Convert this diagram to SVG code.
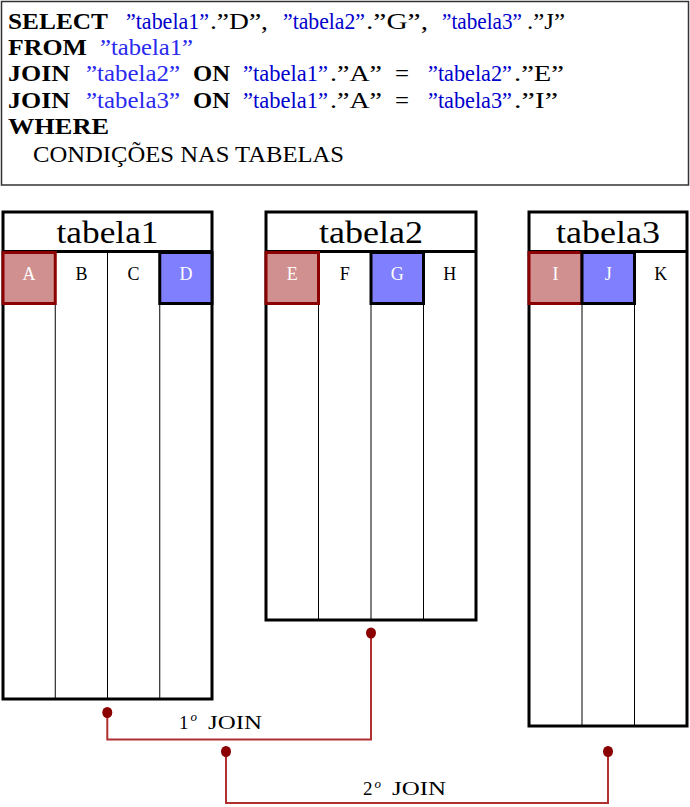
<svg xmlns="http://www.w3.org/2000/svg" width="690" height="807" viewBox="0 0 690 807">
<style>
text{font-family:"Liberation Serif","DejaVu Serif",serif;}
.q{font-size:24px;fill:#000;}
.kw{font-size:23px;font-weight:bold;fill:#000;}
.bl{font-size:23px;fill:#0000cc;}
.bl2{font-size:23px;fill:#2a2aee;}
.frame{fill:#fff;stroke:#000;stroke-width:3;}
.hdr{stroke:#000;stroke-width:3;}
.div{stroke:#000;stroke-width:1;}
.red{fill:#d09090;stroke:#8b0000;stroke-width:3;}
.blue{fill:#8080ff;stroke:#000;stroke-width:3;}
.title{font-size:31px;fill:#000;text-anchor:middle;}
.col{font-size:18px;fill:#000;text-anchor:middle;}
.colw{font-size:18px;fill:#fff;text-anchor:middle;}
.conn{fill:none;stroke:#b03030;stroke-width:2;}
.dot{fill:#8b0000;}
.lab{font-size:19px;fill:#000;}
.sup{font-size:13px;fill:#000;font-style:italic;}
</style>
<rect x="0" y="0" width="690" height="807" fill="#fff"/>
<g id="query">
<rect x="1.5" y="1.5" width="687" height="183.5" fill="#fff" stroke="#333" stroke-width="1.5"/>
<text class="kw" x="8" y="29" textLength="100" lengthAdjust="spacingAndGlyphs">SELECT</text>
<text class="bl" x="126" y="29" textLength="83" lengthAdjust="spacingAndGlyphs">”tabela1”</text>
<text class="q" x="210" y="29" textLength="58" lengthAdjust="spacingAndGlyphs">.”D”,</text>
<text class="bl" x="283" y="29" textLength="82" lengthAdjust="spacingAndGlyphs">”tabela2”</text>
<text class="q" x="366" y="29" textLength="62" lengthAdjust="spacingAndGlyphs">.”G”,</text>
<text class="bl" x="442" y="29" textLength="80" lengthAdjust="spacingAndGlyphs">”tabela3”</text>
<text class="q" x="527" y="29" textLength="38" lengthAdjust="spacingAndGlyphs">.”J”</text>

<text class="kw" x="8" y="55" textLength="79" lengthAdjust="spacingAndGlyphs">FROM</text>
<text class="bl2" x="100" y="55" textLength="93" lengthAdjust="spacingAndGlyphs">”tabela1”</text>

<text class="kw" x="8" y="81" textLength="62" lengthAdjust="spacingAndGlyphs">JOIN</text>
<text class="bl2" x="86" y="81" textLength="94" lengthAdjust="spacingAndGlyphs">”tabela2”</text>
<text class="kw" x="193" y="81" textLength="37" lengthAdjust="spacingAndGlyphs">ON</text>
<text class="bl" x="243" y="81" textLength="85" lengthAdjust="spacingAndGlyphs">”tabela1”</text>
<text class="q" x="330" y="81" textLength="52" lengthAdjust="spacingAndGlyphs">.”A”</text>
<text class="q" x="395" y="81" textLength="14" lengthAdjust="spacingAndGlyphs">=</text>
<text class="bl" x="428" y="81" textLength="84" lengthAdjust="spacingAndGlyphs">”tabela2”</text>
<text class="q" x="514" y="81" textLength="50" lengthAdjust="spacingAndGlyphs">.”E”</text>

<text class="kw" x="8" y="107.5" textLength="62" lengthAdjust="spacingAndGlyphs">JOIN</text>
<text class="bl2" x="86" y="107.5" textLength="94" lengthAdjust="spacingAndGlyphs">”tabela3”</text>
<text class="kw" x="193" y="107.5" textLength="37" lengthAdjust="spacingAndGlyphs">ON</text>
<text class="bl" x="243" y="107.5" textLength="85" lengthAdjust="spacingAndGlyphs">”tabela1”</text>
<text class="q" x="330" y="107.5" textLength="52" lengthAdjust="spacingAndGlyphs">.”A”</text>
<text class="q" x="395" y="107.5" textLength="14" lengthAdjust="spacingAndGlyphs">=</text>
<text class="bl" x="428" y="107.5" textLength="84" lengthAdjust="spacingAndGlyphs">”tabela3”</text>
<text class="q" x="514" y="107.5" textLength="44" lengthAdjust="spacingAndGlyphs">.”I”</text>

<text class="kw" x="8" y="134" textLength="101" lengthAdjust="spacingAndGlyphs">WHERE</text>
<text class="q" x="33" y="161.5" textLength="311" lengthAdjust="spacingAndGlyphs">CONDIÇÕES NAS TABELAS</text>
</g>

<g id="tabela1">
<rect class="frame" x="3" y="212" width="209" height="487"/>
<line class="hdr" x1="3" y1="251.5" x2="212" y2="251.5"/>
<line class="div" x1="55.25" y1="251.5" x2="55.25" y2="699"/>
<line class="div" x1="107.5" y1="251.5" x2="107.5" y2="699"/>
<line class="div" x1="159.75" y1="251.5" x2="159.75" y2="699"/>
<rect class="red" x="3" y="252.5" width="52.25" height="51"/>
<rect class="blue" x="159.75" y="252.5" width="52.25" height="51"/>
<text class="title" x="107.5" y="243" textLength="102" lengthAdjust="spacingAndGlyphs">tabela1</text>
<text class="colw" x="29" y="280">A</text>
<text class="col" x="81.4" y="280">B</text>
<text class="col" x="133.6" y="280">C</text>
<text class="colw" x="186" y="280">D</text>
</g>

<g id="tabela2">
<rect class="frame" x="266" y="212" width="210" height="408"/>
<line class="hdr" x1="266" y1="251.5" x2="476" y2="251.5"/>
<line class="div" x1="318.5" y1="251.5" x2="318.5" y2="620"/>
<line class="div" x1="371" y1="251.5" x2="371" y2="620"/>
<line class="div" x1="423.5" y1="251.5" x2="423.5" y2="620"/>
<rect class="red" x="266" y="252.5" width="52.5" height="51"/>
<rect class="blue" x="371" y="252.5" width="52.5" height="51"/>
<text class="title" x="371" y="243" textLength="104" lengthAdjust="spacingAndGlyphs">tabela2</text>
<text class="colw" x="292.2" y="280">E</text>
<text class="col" x="344.7" y="280">F</text>
<text class="colw" x="397.2" y="280">G</text>
<text class="col" x="449.7" y="280">H</text>
</g>

<g id="tabela3">
<rect class="frame" x="529" y="212" width="158" height="514"/>
<line class="hdr" x1="529" y1="251.5" x2="687" y2="251.5"/>
<line class="div" x1="582" y1="251.5" x2="582" y2="726"/>
<line class="div" x1="634.5" y1="251.5" x2="634.5" y2="726"/>
<rect class="red" x="529" y="252.5" width="53" height="51"/>
<rect class="blue" x="582" y="252.5" width="52.5" height="51"/>
<text class="title" x="608" y="243" textLength="104" lengthAdjust="spacingAndGlyphs">tabela3</text>
<text class="colw" x="555.5" y="280">I</text>
<text class="colw" x="608.2" y="280">J</text>
<text class="col" x="660.7" y="280">K</text>
</g>

<g id="connectors">
<path class="conn" d="M107.3,712.5 V739.5 H371 V633"/>
<ellipse class="dot" cx="107.3" cy="712.5" rx="5" ry="5.5"/>
<ellipse class="dot" cx="371" cy="633" rx="5" ry="5.5"/>
<path class="conn" d="M226,751.5 V803 H608 V751.5"/>
<ellipse class="dot" cx="226" cy="751.5" rx="5" ry="5.5"/>
<ellipse class="dot" cx="608" cy="751.5" rx="5" ry="5.5"/>
<text class="lab" x="179" y="728.5">1</text>
<text class="sup" x="190.5" y="721">o</text>
<text class="lab" x="208" y="728.5" textLength="54" lengthAdjust="spacingAndGlyphs">JOIN</text>
<text class="lab" x="363" y="795">2</text>
<text class="sup" x="374.5" y="787.5">o</text>
<text class="lab" x="392" y="795" textLength="54" lengthAdjust="spacingAndGlyphs">JOIN</text>
</g>
</svg>
